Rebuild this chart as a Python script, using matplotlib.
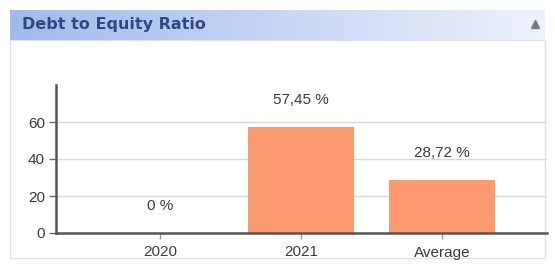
import numpy as np
import matplotlib
matplotlib.use("Agg")
import matplotlib.pyplot as plt
from matplotlib.patches import Rectangle

title = "Debt to Equity Ratio"
categories = ["2020", "2021", "Average"]
values = [0.0, 57.45, 28.72]
value_labels = ["0 %", "57,45 %", "28,72 %"]
y_ticks = [0, 20, 40, 60]

plt.rcParams["font.family"] = ["Liberation Sans", "DejaVu Sans"]

fig = plt.figure(figsize=(5.55, 2.66), dpi=100)
W, H = 555, 266


def fx(px):
    return px / W


def fy(py):
    return 1 - py / H


# panel border, kept behind the axes
fig.patches.append(Rectangle((fx(10), fy(258)), fx(535), 218 / H, transform=fig.transFigure,
                             facecolor="white", edgecolor="#e2e2e2", linewidth=1, zorder=-5))

# header bar with gradient
hax = fig.add_axes([fx(10), fy(40), fx(535), 30 / H])
grad = np.linspace(0, 1, 256).reshape(1, -1)
cmap = matplotlib.colors.LinearSegmentedColormap.from_list("hdr", ["#a0baec", "#c6d6f4", "#eef2fb"])
hax.imshow(grad, aspect="auto", cmap=cmap, extent=[0, 1, 0, 1])
hax.set_xlim(0, 1)
hax.set_ylim(0, 1)
hax.axis("off")
hax.text(0.022, 0.5, title, fontsize=11.5, fontweight="bold", color="#2f4787",
         va="center", ha="left", family="DejaVu Sans")
hax.plot([0.982], [0.55], marker="^", markersize=6, color="#7a7a7a")

ax = fig.add_axes([fx(56), fy(233), fx(491), 148 / H])
ax.patch.set_alpha(0)
x = np.arange(len(categories))
ax.bar(x, values, width=0.75, color="#fa9a6e", zorder=3)
ax.set_xlim(-0.74, 2.745)
ax.set_ylim(0, 80)
ax.set_yticks(y_ticks)
ax.set_xticks(x)
ax.set_xticklabels(categories)
ax.grid(axis="y", color="#d9d9d9", linewidth=1, zorder=0)
for s in ["top", "right"]:
    ax.spines[s].set_visible(False)
for s in ["left", "bottom"]:
    ax.spines[s].set_color("#555555")
    ax.spines[s].set_linewidth(1.8)
    ax.spines[s].set_zorder(4)
ax.tick_params(axis="both", colors="#666666", labelcolor="#3a3a3a", labelsize=11, length=5, width=1)
ax.tick_params(axis="y", pad=3)
ax.tick_params(axis="x", pad=5, color="#999999", length=4)
for xi, v, lab in zip(x, values, value_labels):
    ax.annotate(lab, (xi, v), xytext=(0, 27), textcoords="offset pixels",
                ha="center", va="center", fontsize=11, color="#3a3a3a")

fig.savefig("out.png", dpi=100)
